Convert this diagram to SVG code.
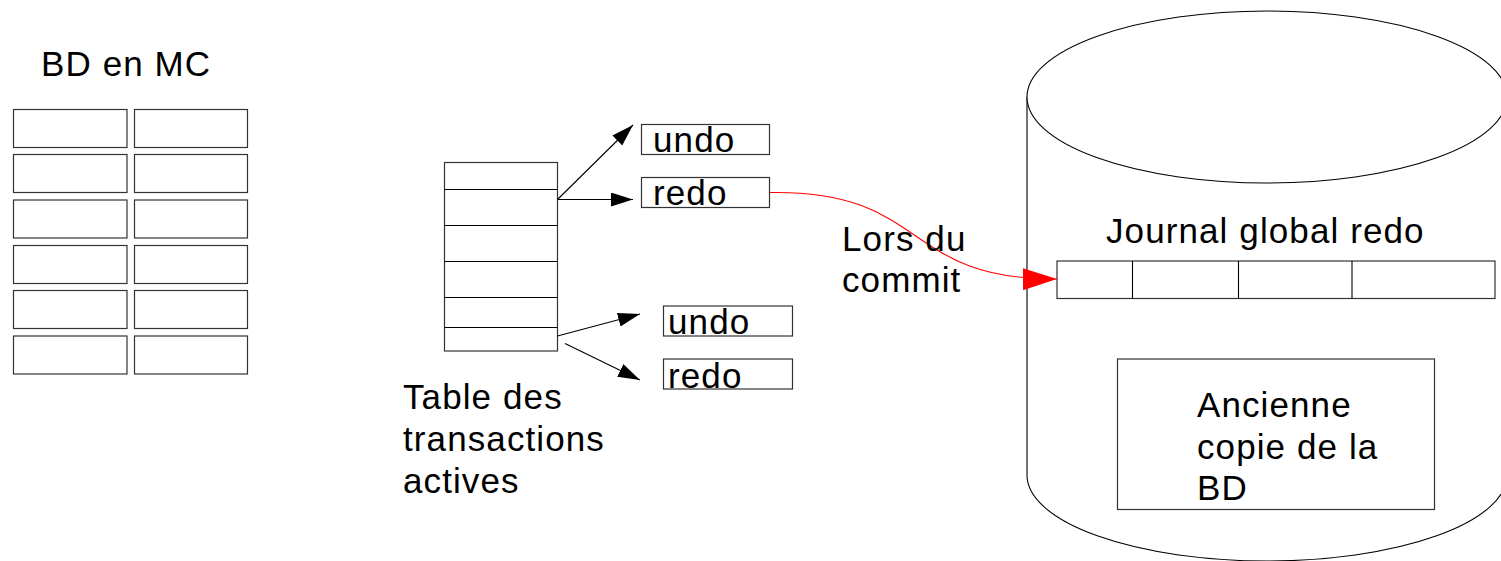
<svg xmlns="http://www.w3.org/2000/svg" width="1501" height="561" viewBox="0 0 1501 561">
<style>
  .box { fill: #fff; stroke: #333; stroke-width: 1.2; }
  .ln { fill: none; stroke: #000; stroke-width: 1.1; }
  .t { font-family: "Liberation Sans", Arial, sans-serif; font-size: 35px; letter-spacing: 1.1px; fill: #000; }
</style>
<defs>
  <marker id="ah" viewBox="0 0 22 14" markerWidth="22" markerHeight="14" refX="22" refY="7" orient="auto" markerUnits="userSpaceOnUse">
    <path d="M0,0 L22,7 L0,14 Z" fill="#000"/>
  </marker>
  <marker id="ahr" viewBox="0 0 34 22" markerWidth="34" markerHeight="22" refX="34" refY="11" orient="auto" markerUnits="userSpaceOnUse">
    <path d="M0,0 L34,11 L0,22 Z" fill="#f00"/>
  </marker>
</defs>

<g id="bd-mc">
  <text class="t" x="41" y="76">BD en MC</text>
  <rect class="box" x="13.5" y="109.5" width="113.5" height="38"/>
  <rect class="box" x="134.5" y="109.5" width="113" height="38"/>
  <rect class="box" x="13.5" y="154.5" width="113.5" height="38"/>
  <rect class="box" x="134.5" y="154.5" width="113" height="38"/>
  <rect class="box" x="13.5" y="200" width="113.5" height="38"/>
  <rect class="box" x="134.5" y="200" width="113" height="38"/>
  <rect class="box" x="13.5" y="245.5" width="113.5" height="38"/>
  <rect class="box" x="134.5" y="245.5" width="113" height="38"/>
  <rect class="box" x="13.5" y="290.5" width="113.5" height="38"/>
  <rect class="box" x="134.5" y="290.5" width="113" height="38"/>
  <rect class="box" x="13.5" y="336" width="113.5" height="38"/>
  <rect class="box" x="134.5" y="336" width="113" height="38"/>
</g>

<g id="table-transactions">
  <rect class="box" x="444.5" y="162.5" width="113" height="188.5"/>
  <line class="ln" x1="444.5" y1="189.5" x2="557.5" y2="189.5"/>
  <line class="ln" x1="444.5" y1="225.5" x2="557.5" y2="225.5"/>
  <line class="ln" x1="444.5" y1="261.5" x2="557.5" y2="261.5"/>
  <line class="ln" x1="444.5" y1="297.5" x2="557.5" y2="297.5"/>
  <line class="ln" x1="444.5" y1="327.5" x2="557.5" y2="327.5"/>
  <text class="t" x="403" y="409">Table des</text>
  <text class="t" x="403" y="451">transactions</text>
  <text class="t" x="403" y="493">actives</text>
</g>

<g id="undo1">
  <rect class="box" x="641.5" y="124.5" width="128" height="30"/>
  <text class="t" x="653" y="152">undo</text>
</g>
<g id="redo1">
  <rect class="box" x="641.5" y="177.5" width="128" height="30"/>
  <text class="t" x="653" y="205">redo</text>
</g>
<g id="undo2">
  <rect class="box" x="663.5" y="306" width="129" height="30"/>
  <text class="t" x="668" y="334">undo</text>
</g>
<g id="redo2">
  <rect class="box" x="663.5" y="359" width="129" height="30"/>
  <text class="t" x="668" y="388">redo</text>
</g>

<g id="disque">
  <path d="M1027,97 L1027,475 A240,86 0 0 0 1507,475 L1507,97" fill="#fff" stroke="#000" stroke-width="1.1"/>
  <ellipse cx="1267" cy="97" rx="240" ry="86" fill="#fff" stroke="#000" stroke-width="1.1"/>
</g>

<g id="journal">
  <text class="t" x="1106" y="243">Journal global redo</text>
  <rect class="box" x="1057" y="261" width="438" height="37.5"/>
  <line class="ln" x1="1132.5" y1="261" x2="1132.5" y2="298.5"/>
  <line class="ln" x1="1238.5" y1="261" x2="1238.5" y2="298.5"/>
  <line class="ln" x1="1352" y1="261" x2="1352" y2="298.5"/>
</g>

<g id="ancienne-copie">
  <rect class="box" x="1117.5" y="359" width="317" height="150.5"/>
  <text class="t" x="1197" y="417">Ancienne</text>
  <text class="t" x="1197" y="459">copie de la</text>
  <text class="t" x="1197" y="500">BD</text>
</g>

<g id="connecteurs">
  <line class="ln" x1="557.5" y1="199.5" x2="633" y2="125" marker-end="url(#ah)"/>
  <line class="ln" x1="557.5" y1="199.5" x2="633" y2="199.5" marker-end="url(#ah)"/>
  <line class="ln" x1="557.5" y1="336" x2="640" y2="314" marker-end="url(#ah)"/>
  <line class="ln" x1="565" y1="343.5" x2="640" y2="380" marker-end="url(#ah)"/>
  <path d="M770,192.5 C930,190 900,280 1057,279" fill="none" stroke="#f00" stroke-width="1.1" marker-end="url(#ahr)"/>
  <text class="t" x="842" y="251">Lors du</text>
  <text class="t" x="842" y="292">commit</text>
</g>
</svg>
